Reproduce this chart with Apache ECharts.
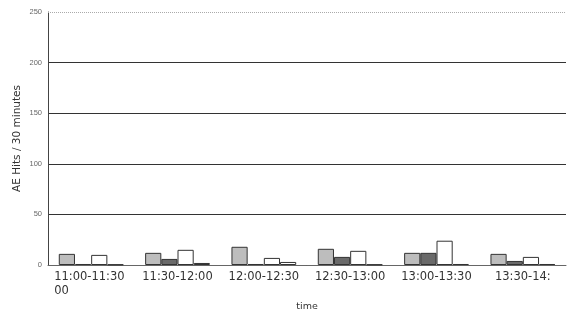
<!DOCTYPE html>
<html><head><meta charset="utf-8">
<script src="https://cdn.jsdelivr.net/npm/echarts@6/dist/echarts.min.js"></script>
<style>html,body{margin:0;padding:0;background:#fff}#c{width:567px;height:309px}</style>
</head><body><div id="c"></div>
<script>
const categories = ["11:00-11:30\n00", "11:30-12:00", "12:00-12:30", "12:30-13:00", "13:00-13:30", "13:30-14:"];
const seriesA = [11, 12, 18, 16, 12, 11];
const seriesB = [1, 6, 1, 8, 12, 4];
const seriesC = [10, 15, 7, 14, 24, 8];
const seriesD = [0.5, 2, 3, 0.5, 1, 1];
const yTicks = [0, 50, 100, 150, 200, 250];

const colors = ["#bdbdbd", "#6a6a6a", "#ffffff", "#ffffff"];
const data = [seriesA, seriesB, seriesC, seriesD];

const chart = echarts.init(document.getElementById('c'), null, {renderer: 'canvas'});
chart.setOption({
  animation: false,
  grid: {left: 48, right: 1, top: 12, bottom: 44, outerBoundsMode: 'none', containLabel: false},
  xAxis: {
    type: 'category', data: categories,
    name: 'time', nameLocation: 'middle', nameGap: 37, nameMoveOverlap: false,
    nameTextStyle: {fontSize: 9.5, color: '#333', fontFamily: 'DejaVu Sans'},
    axisLine: {lineStyle: {color: '#666', width: 1}},
    axisTick: {show: false},
    axisLabel: {
      fontSize: 11.5, color: '#333', fontFamily: 'DejaVu Sans', margin: 5, interval: 0, lineHeight: 14,
      formatter: v => {
        const lines = v.split('\n');
        if (lines.length > 1) return lines.map(l => '{l|' + l + '}').join('\n');
        return v;
      },
      rich: {l: {width: 74, align: 'left', fontSize: 11.5, color: '#333', fontFamily: 'DejaVu Sans', lineHeight: 14}}
    }
  },
  yAxis: {
    type: 'value', min: 0, max: 250, interval: 50,
    name: 'AE Hits / 30 minutes', nameLocation: 'middle', nameGap: 25, nameMoveOverlap: false,
    nameTextStyle: {fontSize: 10.5, color: '#333', fontFamily: 'DejaVu Sans'},
    axisLine: {show: true, lineStyle: {color: '#444', width: 1}},
    axisTick: {show: false},
    axisLabel: {fontSize: 7.5, color: '#666', margin: 6, formatter: v => yTicks.includes(v) ? String(v) : ''},
    splitLine: {show: true, showMaxLine: false, lineStyle: {color: '#333', width: 1}}
  },
  series: data.map((d, i) => ({
    type: 'bar', data: d,
    barGap: '0%', barCategoryGap: '25%',
    itemStyle: {color: colors[i], borderColor: '#333', borderWidth: 1},
    markLine: i === 0 ? {
      silent: true, symbol: 'none', label: {show: false},
      lineStyle: {color: '#aaa', type: 'dotted', width: 1},
      data: [{yAxis: 250}]
    } : undefined
  }))
});
</script></body></html>
